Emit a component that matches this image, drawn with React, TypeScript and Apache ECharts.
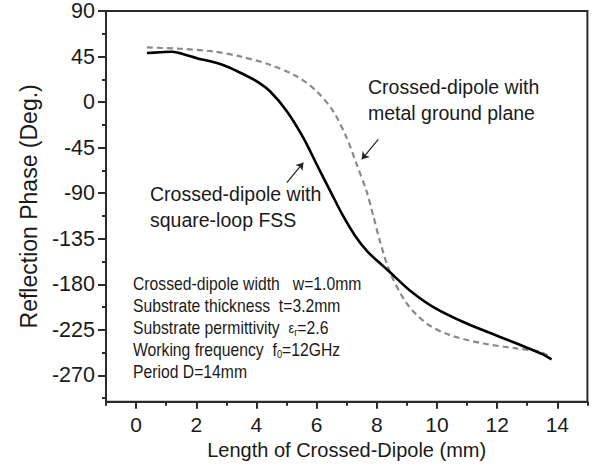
import React, { useEffect, useRef } from "react";
import * as echarts from "echarts";

// Crossed-dipole with square-loop FSS (solid black)
const fssLength = [0.36, 0.8, 1.2, 1.6, 2.02, 2.5, 3.01, 3.5, 4.01, 4.45, 5.01, 5.56, 6.0, 6.45, 6.89, 7.3, 7.7, 8.1, 8.44, 9.1, 9.88, 10.99, 12.1, 13.2, 13.5, 13.81];
const fssPhase = [48.5, 49.2, 49.8, 47, 43.4, 40, 35.2, 28.5, 20.5, 10.7, -9.0, -35.3, -61.4, -87.7, -113, -133, -148, -159, -168.1, -186.1, -202.5, -218.8, -232, -245.1, -249, -254.2];

// Crossed-dipole with metal ground plane (dashed grey)
const metalLength = [0.36, 1.46, 2.57, 3.46, 4.45, 5.34, 6.0, 6.55, 7.0, 7.33, 7.66, 7.88, 8.11, 8.44, 9.0, 9.66, 10.44, 11.55, 12.65, 13.43, 13.76];
const metalPhase = [54, 52.7, 50.0, 45.1, 36.9, 25.4, 10.7, -9.0, -35.3, -61.4, -88, -112, -138, -168.1, -199.1, -218.8, -230.3, -238.5, -243.4, -246.7, -251.7];

// Annotation arrows (data coordinates: start -> head)
const arrowFss = [[5.01, -79.5], [5.56, -59.9]];
const arrowMetal = [[8.05, -36.9], [7.5, -56.5]];

// Ticks
const xTickValues = [0, 2, 4, 6, 8, 10, 12, 14];
const xMinorValues = [-1, 1, 3, 5, 7, 9, 11, 13, 15];
const yTickValues = [90, 45, 0, -45, -90, -135, -180, -225, -270];
const yMinorValues = [67.5, 22.5, -22.5, -67.5, -112.5, -157.5, -202.5, -247.5, -292.5];

// Texts
const xName = "Length of Crossed-Dipole (mm)";
const yName = "Reflection Phase (Deg.)";
const metalNote = ["Crossed-dipole with", "metal ground plane"];
const fssNote = ["Crossed-dipole with", "square-loop FSS"];
const infoLines = [
  "Crossed-dipole width   w=1.0mm",
  "Substrate thickness  t=3.2mm",
  "Substrate permittivity  {eps|ε}{sub|r}=2.6",
  "Working frequency  f{sub|0}=12GHz",
  "Period D=14mm",
];

const AXIS = "#2b2b2b";
const TEXT = "#1a1a1a";
const FONT = "'Liberation Sans', Arial, Helvetica, sans-serif";

const zip = (xs: number[], ys: number[]) => xs.map((x, i) => [x, ys[i]]);

export default function App() {
  const ref = useRef<HTMLDivElement>(null);
  useEffect(() => {
    const chart = echarts.init(ref.current!, null, { renderer: "svg" });
    const tickLine = { color: AXIS, width: 2 };
    const graphic: any[] = [];
    metalNote.forEach((t, i) =>
      graphic.push({
        type: "text", x: 368, y: 86.5 + i * 26,
        style: { text: t, fontSize: 19.5, fontFamily: FONT, fill: TEXT, verticalAlign: "middle" },
      })
    );
    fssNote.forEach((t, i) =>
      graphic.push({
        type: "text", x: 150, y: 194 + i * 25.5,
        style: { text: t, fontSize: 19.5, fontFamily: FONT, fill: TEXT, verticalAlign: "middle" },
      })
    );
    infoLines.forEach((t, i) =>
      graphic.push({
        type: "text", x: 133, y: 284 + i * 22, scaleX: 0.85,
        style: {
          text: t, fontSize: 18.5, fontFamily: FONT, fill: TEXT, verticalAlign: "middle", lineHeight: 20,
          rich: {
            eps: { fontSize: 15, fontFamily: FONT, fill: TEXT, lineHeight: 20 },
            sub: { fontSize: 11, fontFamily: FONT, fill: TEXT, lineHeight: 11, verticalAlign: "bottom" },
          },
        },
      })
    );
    const arrowMark = (pts: number[][]) => ({
      silent: true,
      symbol: ["none", "arrow"],
      symbolSize: 7,
      label: { show: false },
      lineStyle: { color: "#222", width: 1.2, type: "solid" },
      emphasis: { disabled: true },
      data: [[{ coord: pts[0] }, { coord: pts[1] }]],
    });
    chart.setOption({
      animation: false,
      grid: { left: 106, right: 10.6, top: 9.5, bottom: 65.3, show: true, borderColor: AXIS, borderWidth: 2 },
      xAxis: [
        {
          type: "value", min: -1, max: 15, position: "bottom",
          axisLine: { show: true, onZero: false, lineStyle: tickLine },
          axisTick: { show: true, customValues: xTickValues, length: 7, lineStyle: tickLine },
          axisLabel: { customValues: xTickValues, fontSize: 21, color: TEXT, margin: 12, fontFamily: FONT },
          splitLine: { show: false },
          name: xName, nameLocation: "middle", nameGap: 37,
          nameTextStyle: { fontSize: 20, color: TEXT, fontFamily: FONT },
        },
        {
          type: "value", min: -1, max: 15, position: "bottom",
          axisLine: { show: false, onZero: false },
          axisTick: { show: true, customValues: xMinorValues, length: 4, lineStyle: tickLine },
          axisLabel: { show: false },
          splitLine: { show: false },
        },
      ],
      yAxis: [
        {
          type: "value", min: -296, max: 90, position: "left",
          axisLine: { show: true, onZero: false, lineStyle: tickLine },
          axisTick: { show: true, customValues: yTickValues, length: 8, lineStyle: tickLine },
          axisLabel: { customValues: yTickValues, fontSize: 21.5, color: TEXT, margin: 11, fontFamily: FONT },
          splitLine: { show: false },
          name: yName, nameLocation: "middle", nameGap: 66,
          nameTextStyle: { fontSize: 23, color: TEXT, fontFamily: FONT },
        },
        {
          type: "value", min: -296, max: 90, position: "left",
          axisLine: { show: false, onZero: false },
          axisTick: { show: true, customValues: yMinorValues, length: 4, lineStyle: tickLine },
          axisLabel: { show: false },
          splitLine: { show: false },
        },
      ],
      series: [
        {
          type: "line", xAxisIndex: 0, yAxisIndex: 0,
          data: zip(metalLength, metalPhase),
          symbol: "none", smooth: 0.3,
          lineStyle: { color: "#8a8a8a", width: 2.2, type: [6, 4] },
          markLine: arrowMark(arrowMetal),
        },
        {
          type: "line", xAxisIndex: 0, yAxisIndex: 0,
          data: zip(fssLength, fssPhase),
          symbol: "none", smooth: 0.3,
          lineStyle: { color: "#000", width: 2.6 },
          markLine: arrowMark(arrowFss),
        },
      ],
      graphic,
    });
    return () => chart.dispose();
  }, []);
  return <div ref={ref} style={{ position: "absolute", left: 0, top: 0, width: 598, height: 467, background: "#fff" }} />;
}
